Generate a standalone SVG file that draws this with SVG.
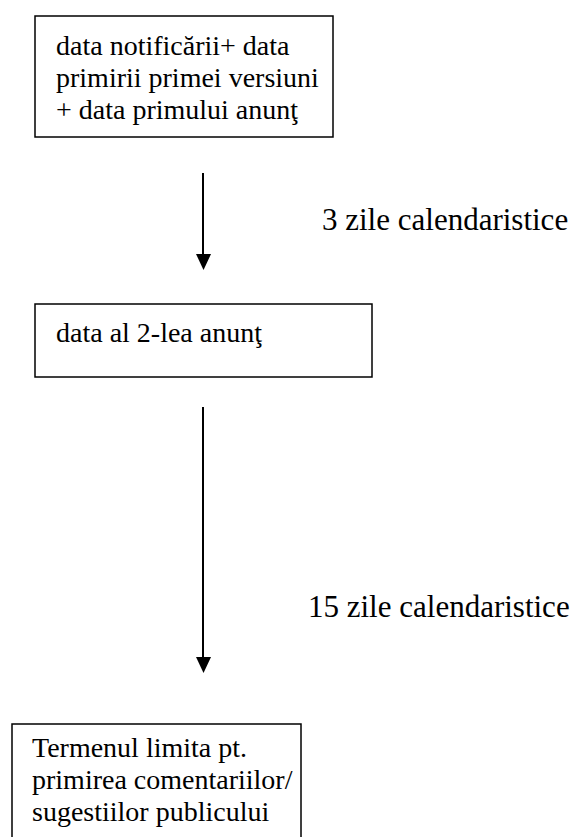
<svg xmlns="http://www.w3.org/2000/svg" width="580" height="837" viewBox="0 0 580 837">
  <style>
    .box { fill: #ffffff; stroke: #000000; stroke-width: 1.5; }
    .t { font-family: "Liberation Serif", "Times New Roman", serif; font-size: 28px; fill: #000000; }
    .lbl { font-family: "Liberation Serif", "Times New Roman", serif; font-size: 31px; fill: #000000; }
    .conn { stroke: #000000; stroke-width: 2; fill: none; }
    .head { fill: #000000; }
  </style>
  <rect width="580" height="837" fill="#ffffff"/>
  <g id="node1">
    <rect class="box" x="35" y="16" width="298" height="121"/>
    <text class="t" x="56" y="55">data notificării+ data</text>
    <text class="t" x="56" y="87">primirii primei versiuni</text>
    <text class="t" x="56" y="119">+ data primului anunţ</text>
  </g>
  <g id="node2">
    <rect class="box" x="35" y="304" width="337" height="73"/>
    <text class="t" x="56" y="342">data al 2-lea anunţ</text>
  </g>
  <g id="node3">
    <rect class="box" x="12" y="724" width="289" height="130"/>
    <text class="t" x="32" y="757">Termenul limita pt.</text>
    <text class="t" x="32" y="789">primirea comentariilor/</text>
    <text class="t" x="32" y="821">sugestiilor publicului</text>
  </g>
  <g id="connectors">
    <line class="conn" x1="203" y1="173" x2="203" y2="256"/>
    <polygon class="head" points="196,254 211,254 203.5,270"/>
    <text class="lbl" x="322" y="230">3 zile calendaristice</text>
    <line class="conn" x1="203" y1="407" x2="203" y2="659"/>
    <polygon class="head" points="196,657 211,657 203.5,673"/>
    <text class="lbl" x="308" y="617">15 zile calendaristice</text>
  </g>
</svg>
